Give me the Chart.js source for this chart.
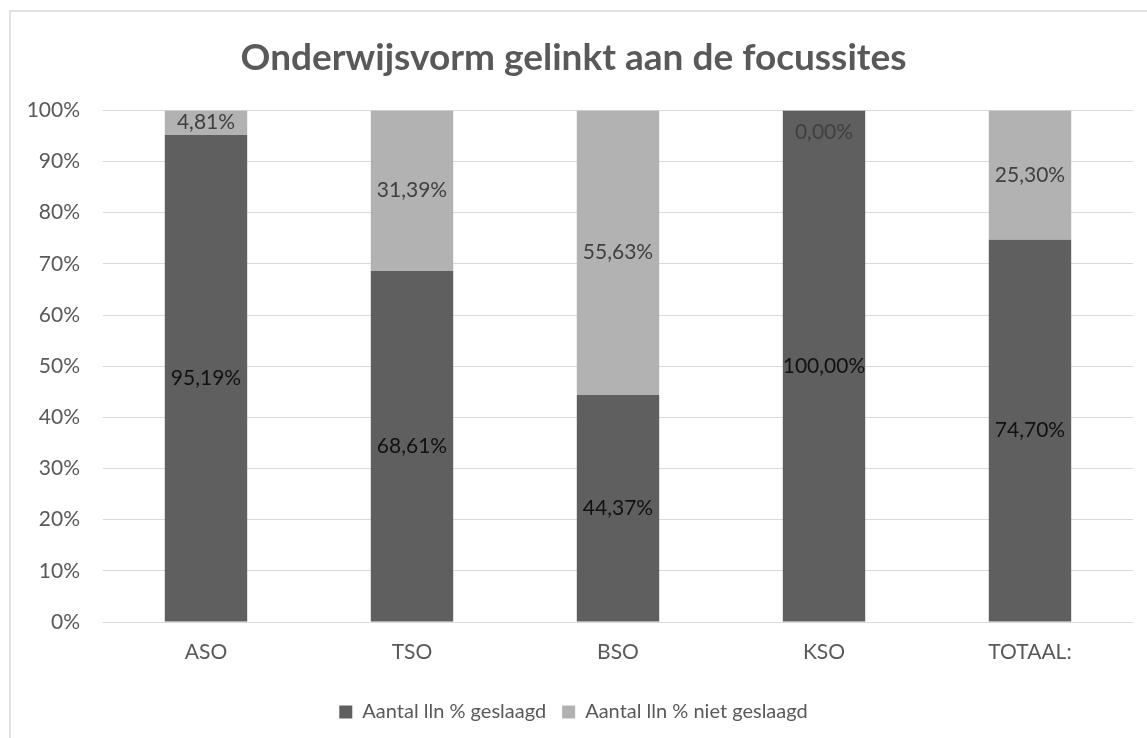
<!DOCTYPE html>
<html>
<head>
<meta charset="utf-8">
<script src="https://cdn.jsdelivr.net/npm/chart.js@4/dist/chart.umd.min.js"></script>
<style>
  html, body { margin: 0; padding: 0; background: #fff; overflow: hidden; }
  #wrap { position: relative; width: 1147px; height: 738px; }
  #frame {
    position: absolute; left: 9px; top: 10px; width: 1200px; height: 800px;
    border-top: 2px solid #e2e2e2; border-left: 2px solid #e2e2e2;
  }
  canvas { position: absolute; left: 0; top: 0; }
</style>
</head>
<body>
<div id="wrap">
  <div id="frame"></div>
  <canvas id="chart" width="1147" height="738"></canvas>
</div>
<script>
const categories = ["ASO", "TSO", "BSO", "KSO", "TOTAAL:"];
const geslaagd = [95.19, 68.61, 44.37, 100.00, 74.70];
const nietGeslaagd = [4.81, 31.39, 55.63, 0.00, 25.30];
const yTicks = [0, 10, 20, 30, 40, 50, 60, 70, 80, 90, 100];

const FONT = "Lato, 'Open Sans', sans-serif";

// draws the percentage labels on the bar segments, Excel style
const segmentLabels = {
  id: "segmentLabels",
  afterDatasetsDraw(chart) {
    const ctx = chart.ctx;
    ctx.save();
    ctx.font = "21px " + FONT;
    ctx.textAlign = "center";
    ctx.textBaseline = "middle";
    chart.data.datasets.forEach((ds, di) => {
      const meta = chart.getDatasetMeta(di);
      meta.data.forEach((bar, i) => {
        const v = ds.data[i];
        let y = (bar.y + bar.base) / 2;
        if (Math.abs(bar.base - bar.y) < 1) y = bar.y + 22; // empty segment: label sits inside the bar below
        ctx.fillStyle = ds.labelColor;
        ctx.fillText(v.toFixed(2).replace(".", ",") + "%", bar.x, y);
      });
    });
    ctx.restore();
  }
};

new Chart(document.getElementById("chart"), {
  type: "bar",
  data: {
    labels: categories,
    datasets: [
      {
        label: "Aantal lln % geslaagd",
        data: geslaagd,
        backgroundColor: "#5f5f5f",
        labelColor: "#111111"
      },
      {
        label: "Aantal lln % niet geslaagd",
        data: nietGeslaagd,
        backgroundColor: "#b2b2b2",
        labelColor: "#404040"
      }
    ]
  },
  options: {
    responsive: false,
    animation: false,
    layout: { padding: { left: 14, right: 14, top: 0, bottom: 6 } },
    datasets: {
      bar: { barPercentage: 0.4, categoryPercentage: 1.0 }
    },
    scales: {
      x: {
        stacked: true,
        grid: { display: false },
        border: { display: false },
        ticks: { color: "#595959", font: { family: FONT, size: 21 }, padding: 10 },
        afterFit(scale) { scale.height = 64; }
      },
      y: {
        stacked: true,
        min: 0,
        max: 100,
        afterBuildTicks(scale) { scale.ticks = yTicks.map(v => ({ value: v })); },
        grid: { color: "#d9d9d9", lineWidth: 1, drawTicks: false },
        border: { display: false },
        ticks: {
          color: "#595959",
          font: { family: FONT, size: 21 },
          padding: 23,
          callback: v => v + "%"
        },
        afterFit(scale) { scale.width = 89; }
      }
    },
    plugins: {
      title: {
        display: true,
        text: "Onderwijsvorm gelinkt aan de focussites",
        color: "#595959",
        font: { family: FONT, size: 37, weight: "bold" },
        padding: { top: 36, bottom: 30 }
      },
      legend: {
        position: "bottom",
        labels: {
          color: "#595959",
          font: { family: FONT, size: 20 },
          boxWidth: 13,
          boxHeight: 13,
          padding: 16
        }
      },
      tooltip: { enabled: false }
    }
  },
  plugins: [segmentLabels]
});
</script>
</body>
</html>
